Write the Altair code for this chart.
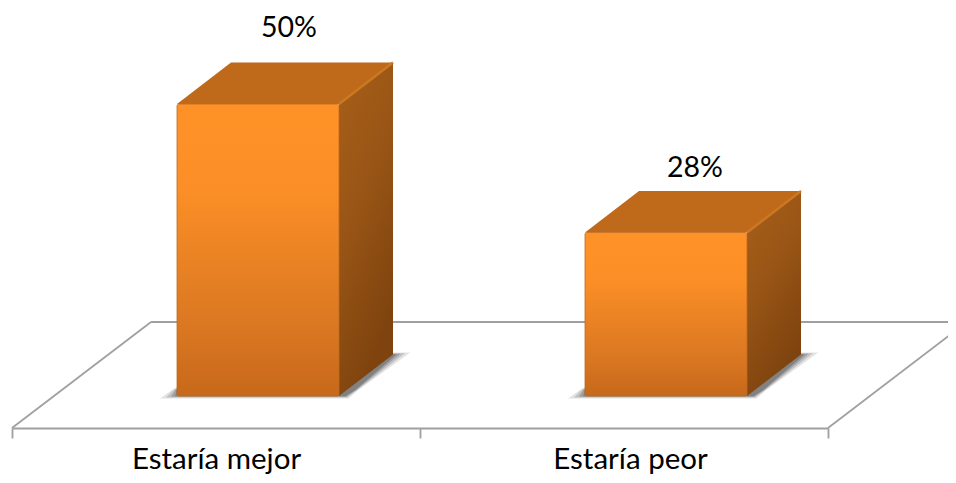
import altair as alt
import pandas as pd

categories = ["Estaría mejor", "Estaría peor"]
values = [50, 28]
labels = ["50%", "28%"]

FONT = "Lato"
FS_AXIS = 29.5
FS_VALUE = 28.5
U = 408.0      # px per category slot
V = 5.84       # px per percentage point
BAR_START = 165 / U
BAR_W = 162 / U
DX = 54 / U
DY = 41.5 / V
FLOOR_DX = 139 / U
FLOOR_DY = 106 / V
FLOOR_Y0 = -32 / V
LABEL_DY = [-35, -23]
LABEL_DX = [0, -2]

xs = alt.Scale(domain=[0, 2], nice=False, zero=False)
ys = alt.Scale(domain=[FLOOR_Y0, 388 / V], nice=False, zero=False)
X = alt.X("x:Q", scale=xs, axis=None)
Y = alt.Y("y:Q", scale=ys, axis=None)
X2 = alt.X2("x2:Q")
Y2 = alt.Y2("y2:Q")


def grad(stops, x2=0, y2=1):
    return alt.LinearGradient(
        gradient="linear", x1=0, y1=0, x2=x2, y2=y2,
        stops=[alt.GradientStop(offset=o, color=c) for o, c in stops],
    )


FRONT = grad([(0, "#FF9227"), (0.3, "#FB8E26"), (0.75, "#DB7822"), (1, "#C7691B")])
SIDE = grad([(0, "#A85F18"), (0.45, "#9A5616"), (1, "#7E430E")], x2=0.4)
LINE = "#A0A0A0"

layers = []

# floor outline
floor = [
    [(0, FLOOR_Y0), (FLOOR_DX, FLOOR_Y0 + FLOOR_DY)],
    [(FLOOR_DX, FLOOR_Y0 + FLOOR_DY), (2 + FLOOR_DX, FLOOR_Y0 + FLOOR_DY)],
    [(2, FLOOR_Y0), (2 + FLOOR_DX, FLOOR_Y0 + FLOOR_DY)],
]
for seg in floor:
    layers.append(
        alt.Chart(pd.DataFrame(seg, columns=["x", "y"]))
        .mark_line(color=LINE, strokeWidth=1.8, clip=False)
        .encode(x=X, y=Y)
    )

# axis with category labels on a band scale
layers.append(
    alt.Chart(pd.DataFrame({"c": categories}))
    .mark_point(opacity=0)
    .encode(
        x=alt.X(
            "c:N", sort=categories,
            scale=alt.Scale(type="band", paddingInner=0, paddingOuter=0),
            axis=alt.Axis(
                title=None, labelAngle=0, tickBand="extent", tickSize=10, tickWidth=1.8,
                tickColor=LINE, domainColor=LINE, domainWidth=1.8,
                labelFont=FONT, labelFontSize=FS_AXIS, labelColor="#000000", labelPadding=30,
                labelBaseline="alphabetic", grid=False,
                labelOffset={"condition": {"test": "datum.value === 'Estaría peor'", "value": 6}, "value": 0},
            ),
        ),
        y=alt.value(0),
    )
)

for i, v in enumerate(values):
    xl = i + BAR_START
    xr = xl + BAR_W

    # soft floor shadow built from stacked translucent footprints
    for grow, op in [(1.0, 0.14), (0.65, 0.2), (0.35, 0.25), (0.1, 0.3)]:
        pad_x = grow * 17 / U
        pad_y = grow * 4 / V
        shadow = pd.DataFrame({
            "y": [-pad_y * 0.6, 6 / V, DY + pad_y * 0.5],
            "x": [xl - pad_x, xl - pad_x * 0.3, xl + DX],
            "x2": [xr + 6 / U + pad_x * 0.2, xr + 16 / U + pad_x * 0.2, xr + DX + 2 / U + pad_x * 0.9],
        })
        layers.append(
            alt.Chart(shadow)
            .mark_area(orient="horizontal", color="#3A3A3A", opacity=op, clip=False)
            .encode(x=X, x2=X2, y=Y)
        )

    # side face
    side = pd.DataFrame({"x": [xr, xr + DX], "y": [0, DY], "y2": [v, v + DY]})
    layers.append(
        alt.Chart(side).mark_area(orient="vertical", color=SIDE, clip=False)
        .encode(x=X, y=Y, y2=Y2)
    )

    # top face
    top = pd.DataFrame({"y": [v, v + DY], "x": [xl, xl + DX], "x2": [xr, xr + DX]})
    layers.append(
        alt.Chart(top).mark_area(orient="horizontal", color="#BF6A1B", clip=False)
        .encode(x=X, x2=X2, y=Y)
    )

    # highlight on the top-right edge
    edge = pd.DataFrame({"x": [xr, xr + DX], "y": [v, v + DY]})
    layers.append(
        alt.Chart(edge).mark_line(color="#CC7722", strokeWidth=2.5, clip=False)
        .encode(x=X, y=Y)
    )

    # front face
    front = pd.DataFrame({"x": [xl], "x2": [xr], "y": [0], "y2": [v]})
    layers.append(
        alt.Chart(front)
        .mark_bar(color=FRONT, cornerRadius=2, stroke="#BF6A1E", strokeWidth=0.8, clip=False)
        .encode(x=X, x2=X2, y=Y, y2=Y2)
    )

    # value label
    lab = pd.DataFrame({"x": [xl + (BAR_W + DX) / 2 + 4 / U], "y": [v + DY], "t": [labels[i]]})
    layers.append(
        alt.Chart(lab)
        .mark_text(font=FONT, fontSize=FS_VALUE, color="#000000", dx=LABEL_DX[i], dy=LABEL_DY[i], clip=False)
        .encode(x=X, y=Y, text="t:N")
    )

chart = (
    alt.layer(*layers)
    .resolve_scale(x="independent")
    .properties(
        width=816, height=420,
        autosize=alt.AutoSizeParams(type="none"),
        padding={"left": 4, "top": 0, "right": 120, "bottom": 47},
        background="#FFFFFF",
    )
    .configure_view(stroke=None)
)

chart.save("out.html", embed_options={"renderer": "svg", "actions": False})
